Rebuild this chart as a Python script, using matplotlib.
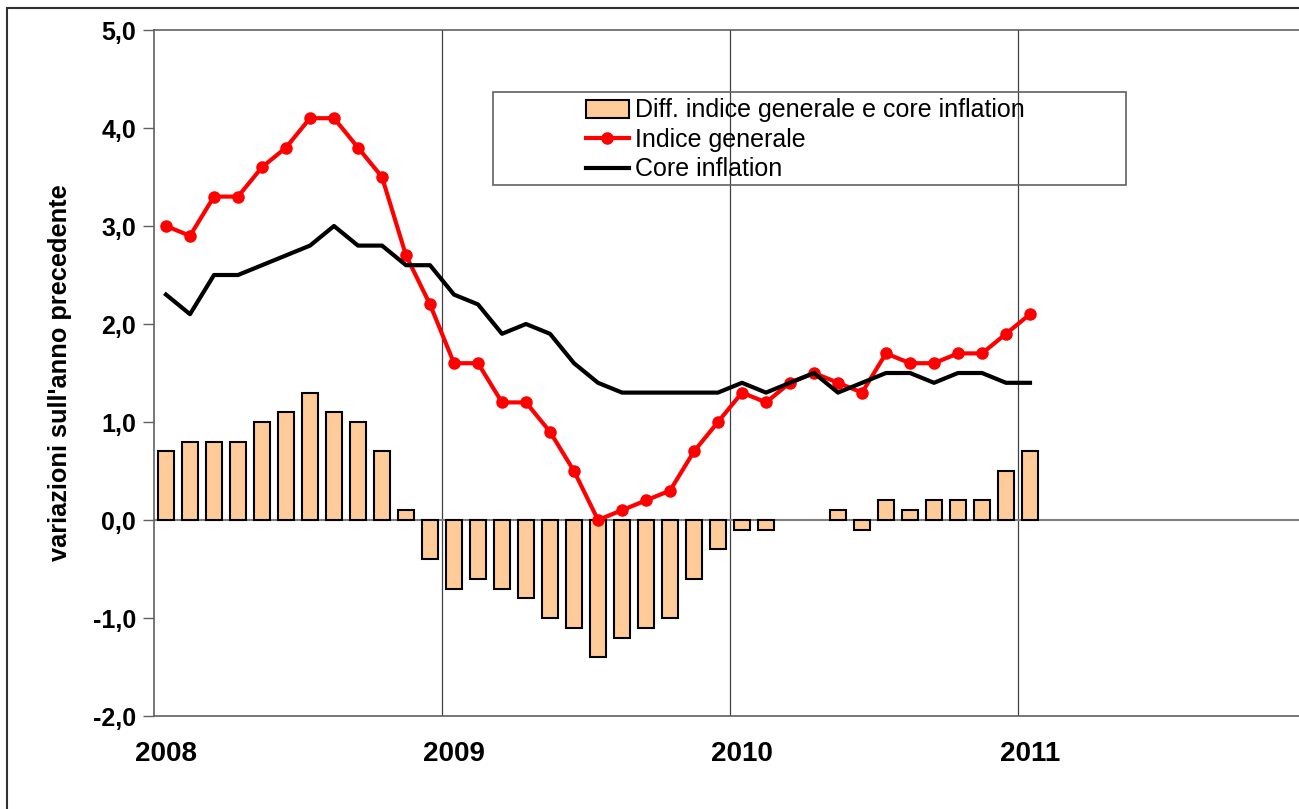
import numpy as np
from matplotlib import pyplot as plt
from matplotlib.patches import Rectangle

plt.rcParams['font.family'] = ['Liberation Sans', 'DejaVu Sans']

# monthly data, Jan 2008 .. Jan 2011
indice = [3.0, 2.9, 3.3, 3.3, 3.6, 3.8, 4.1, 4.1, 3.8, 3.5, 2.7, 2.2,
          1.6, 1.6, 1.2, 1.2, 0.9, 0.5, 0.0, 0.1, 0.2, 0.3, 0.7, 1.0,
          1.3, 1.2, 1.4, 1.5, 1.4, 1.3, 1.7, 1.6, 1.6, 1.7, 1.7, 1.9,
          2.1]
core = [2.3, 2.1, 2.5, 2.5, 2.6, 2.7, 2.8, 3.0, 2.8, 2.8, 2.6, 2.6,
        2.3, 2.2, 1.9, 2.0, 1.9, 1.6, 1.4, 1.3, 1.3, 1.3, 1.3, 1.3,
        1.4, 1.3, 1.4, 1.5, 1.3, 1.4, 1.5, 1.5, 1.4, 1.5, 1.5, 1.4,
        1.4]
diff = [0.7, 0.8, 0.8, 0.8, 1.0, 1.1, 1.3, 1.1, 1.0, 0.7, 0.1, -0.4,
        -0.7, -0.6, -0.7, -0.8, -1.0, -1.1, -1.4, -1.2, -1.1, -1.0, -0.6, -0.3,
        -0.1, -0.1, 0.0, 0.0, 0.1, -0.1, 0.2, 0.1, 0.2, 0.2, 0.2, 0.5,
        0.7]
years = ['2008', '2009', '2010', '2011']

W, H = 1299, 809
fig = plt.figure(figsize=(W / 100, H / 100), dpi=100)
ax = fig.add_axes([154 / W, 93 / H, (1306 - 154) / W, (716 - 30) / H])

x = np.arange(len(indice)) + 0.5

for yr in (12, 24, 36):
    ax.axvline(yr, color='#404040', lw=0.9, zorder=1)
ax.axhline(0, color='#808080', lw=1.5, zorder=1)

# zero-height bars get no outline (nothing is drawn for them in the original)
edge_w = [1.5 if v != 0 else 0 for v in diff]
bars = ax.bar(x, diff, width=0.68, color='#FFCC99', edgecolor='black',
              linewidth=edge_w, zorder=2)
l1, = ax.plot(x, indice, color='#FF0000', lw=3, marker='o', markersize=8,
              zorder=3)
l2, = ax.plot(x, core, color='black', lw=3, zorder=4)

ax.set_xlim(0, 48)
ax.set_ylim(-2, 5)
ax.set_yticks(range(-2, 6))
ax.set_yticklabels(['{:.1f}'.format(v).replace('.', ',') for v in range(-2, 6)],
                   fontsize=18, fontweight='bold')
ax.tick_params(axis='y', direction='out', length=8, width=1, color='#606060', pad=5)

ax.set_xticks([0, 12, 24, 36, 48])
ax.set_xticklabels([])
ax.tick_params(axis='x', which='major', length=0)
ax.set_xticks([0.5, 12.5, 24.5, 36.5], minor=True)
ax.set_xticklabels(years, minor=True, fontsize=20, fontweight='bold')
ax.tick_params(axis='x', which='minor', length=0, pad=18)

for sp in ax.spines.values():
    sp.set_color('#606060')
    sp.set_linewidth(1.2)

fig.text(60 / W, 1 - 373 / H, "variazioni sull'anno precedente", rotation=90,
         ha='center', va='center', fontsize=18.3, fontweight='bold')

# legend with a separate frame, as in the original
bar_handle = Rectangle((0, 0), 1, 1, facecolor='#FFCC99', edgecolor='black', lw=1.5)
leg = fig.legend([bar_handle, l1, l2],
                 ['Diff. indice generale e core inflation', 'Indice generale',
                  'Core inflation'],
                 loc='center left', bbox_to_anchor=(586 / W, 1 - 140 / H),
                 frameon=False, fontsize=18, handlelength=1.7,
                 handletextpad=0.25, labelspacing=0.22, borderpad=0,
                 borderaxespad=0)
fig.add_artist(Rectangle((493 / W, 1 - 185 / H), (1126 - 493) / W, (185 - 92) / H,
                         transform=fig.transFigure, fill=False,
                         edgecolor='#606060', lw=1.2))

# outer chart border
fig.add_artist(Rectangle((7 / W, -0.05), 1.1, 1 - 8 / H + 0.05,
                         transform=fig.transFigure, fill=False,
                         edgecolor='#303030', lw=1.5))

fig.savefig('out.png', dpi=100)
